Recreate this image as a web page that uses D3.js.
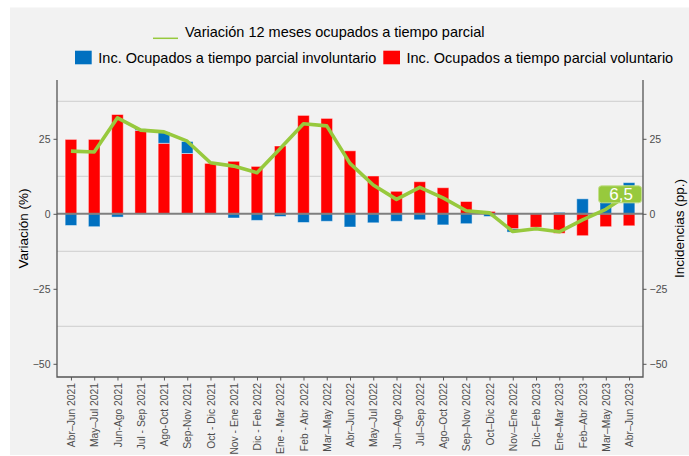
<!DOCTYPE html>
<html>
<head>
<meta charset="utf-8">
<script src="https://cdn.jsdelivr.net/npm/d3@7"></script>
<style>
  html, body { margin: 0; padding: 0; background: #fff; }
  svg { display: block; font-family: "Liberation Sans", Arial, sans-serif; }
</style>
</head>
<body>
<div id="chart"></div>
<script>
const categories = [
  "Abr–Jun 2021", "May–Jul 2021", "Jun-Ago 2021", "Jul - Sep 2021", "Ago-Oct 2021",
  "Sep-Nov 2021", "Oct - Dic 2021", "Nov - Ene 2021", "Dic - Feb 2022", "Ene - Mar 2022",
  "Feb - Abr 2022", "Mar–May 2022", "Abr–Jun 2022", "May–Jul 2022", "Jun–Ago 2022",
  "Jul–Sep 2022", "Ago–Oct 2022", "Sep–Nov 2022", "Oct–Dic 2022", "Nov–Ene 2022",
  "Dic–Feb 2023", "Ene–Mar 2023", "Feb–Abr 2023", "Mar–May 2023", "Abr–Jun 2023"
];
const involuntario = [-3.9, -4.3, -1.1, 0.5, 3.8, 4.0, 0.0, -1.4, -2.2, -0.9, -2.9, -2.5, -4.4,
  -3.0, -2.5, -2.0, -3.7, -3.3, -0.9, -1.1, 0.0, 0.5, 5.0, 5.8, 10.4];
const voluntario = [24.8, 24.8, 33.1, 27.8, 23.5, 20.1, 16.8, 17.5, 15.8, 22.6, 32.8, 31.8, 21.0,
  12.6, 7.5, 10.7, 8.7, 4.1, 0.8, -5.0, -4.5, -6.5, -7.3, -4.3, -4.0];
const variacion = [20.9, 20.6, 32.0, 27.9, 27.3, 24.2, 17.0, 15.9, 13.7, 21.8, 30.0, 29.3, 16.8,
  9.6, 4.8, 8.8, 5.3, 1.0, 0.3, -5.9, -5.0, -6.0, -2.0, 1.5, 6.5];
const yTicks = [25, 0, -25, -50];
const yMinor = [37.5, 12.5, -12.5, -37.5];
const lastLabel = "6,5";

const width = 689, height = 456;
const marginLeft = 57, marginRight = 46, marginTop = 80, marginBottom = 79;
const red = "#ff0000", blue = "#0070c0", green = "#97c93d";

const svg = d3.select("#chart").append("svg")
  .attr("width", width)
  .attr("height", height)
  .attr("viewBox", [0, 0, width, height]);

svg.append("rect")
  .attr("x", 10).attr("y", 7.5)
  .attr("width", width - 10).attr("height", height - 8.5)
  .attr("fill", "#f2f2f2");

const x = d3.scalePoint()
  .domain(categories)
  .range([marginLeft, width - marginRight])
  .padding(0.6);
const barW = x.step() * 0.5;

const y = d3.scaleLinear()
  .domain([-54.4, 44.6])
  .range([height - marginBottom, marginTop]);

// grid
svg.append("g")
  .selectAll("line")
  .data(yMinor)
  .join("line")
  .attr("x1", marginLeft).attr("x2", width - marginRight)
  .attr("y1", d => y(d)).attr("y2", d => y(d))
  .attr("stroke", "#cdcdcd")
  .attr("stroke-width", 1);

// stacked bars
const rows = categories.map((c, i) => ({ cat: c, vol: voluntario[i], inv: involuntario[i] }));
const series = d3.stack()
  .keys(["vol", "inv"])
  .offset(d3.stackOffsetDiverging)(rows);
const colors = { vol: red, inv: blue };

svg.append("g")
  .selectAll("g")
  .data(series)
  .join("g")
  .attr("fill", d => colors[d.key])
  .selectAll("rect")
  .data(d => d)
  .join("rect")
  .attr("x", d => x(d.data.cat) - barW / 2)
  .attr("width", barW)
  .attr("y", d => y(Math.max(d[0], d[1])))
  .attr("height", d => Math.abs(y(d[0]) - y(d[1])))
  .attr("stroke", "rgba(255,255,255,0.45)")
  .attr("stroke-width", 1);

// zero line
svg.append("line")
  .attr("x1", marginLeft).attr("x2", width - marginRight)
  .attr("y1", y(0)).attr("y2", y(0))
  .attr("stroke", "#7f7f7f")
  .attr("stroke-width", 2);

// variation line
const line = d3.line()
  .x((d, i) => x(categories[i]))
  .y(d => y(d));

svg.append("path")
  .attr("fill", "none")
  .attr("stroke", green)
  .attr("stroke-width", 3.6)
  .attr("stroke-linejoin", "round")
  .attr("d", line(variacion));

// last value label
const lx = x(categories[categories.length - 1]) - 9;
const ly = y(variacion[variacion.length - 1]);
svg.append("rect")
  .attr("x", lx - 21.5).attr("y", ly - 8.5)
  .attr("width", 43).attr("height", 17)
  .attr("rx", 3)
  .attr("fill", green)
  .attr("stroke", "#c4e08c")
  .attr("stroke-width", 1);
svg.append("text")
  .attr("x", lx + 1).attr("y", ly)
  .attr("dy", "0.36em")
  .attr("text-anchor", "middle")
  .attr("fill", "#fff")
  .attr("font-size", 17)
  .text(lastLabel);

// axes
const axisColor = "#555";
const tickColor = "#4d4d4d";

const yAxisLeft = d3.axisLeft(y).tickValues(yTicks).tickSize(3.5).tickPadding(3);
const yAxisRight = d3.axisRight(y).tickValues(yTicks).tickSize(3.5).tickPadding(3);
const xAxis = d3.axisBottom(x).tickSize(3.5).tickPadding(2);

function styleAxis(g) {
  g.select(".domain").remove();
  g.selectAll(".tick line").attr("stroke", axisColor);
  g.selectAll(".tick text").attr("fill", tickColor).attr("font-size", 10.5);
}

svg.append("g")
  .attr("transform", `translate(${marginLeft},0)`)
  .call(yAxisLeft)
  .call(styleAxis);

svg.append("g")
  .attr("transform", `translate(${width - marginRight},0)`)
  .call(yAxisRight)
  .call(styleAxis);

svg.append("g")
  .attr("transform", `translate(0,${height - marginBottom})`)
  .call(xAxis)
  .call(styleAxis)
  .call(g => g.selectAll(".tick text")
    .attr("font-size", 10.3)
    .attr("text-anchor", "end")
    .attr("transform", "rotate(-90)")
    .attr("x", -6).attr("y", 0).attr("dy", "0.35em"));

// frame lines (left, right, bottom)
svg.append("path")
  .attr("fill", "none")
  .attr("stroke", axisColor)
  .attr("stroke-width", 1.3)
  .attr("d", `M${marginLeft},${marginTop}V${height - marginBottom}H${width - marginRight}V${marginTop}`);

// axis titles
svg.append("text")
  .attr("transform", `translate(28,${(marginTop + height - marginBottom) / 2}) rotate(-90)`)
  .attr("text-anchor", "middle")
  .attr("font-size", 13.5)
  .attr("fill", "#000")
  .text("Variación (%)");

svg.append("text")
  .attr("transform", `translate(684,${(marginTop + height - marginBottom) / 2}) rotate(-90)`)
  .attr("text-anchor", "middle")
  .attr("font-size", 13.5)
  .attr("fill", "#000")
  .text("Incidencias (pp.)");

// legend
const legend = svg.append("g").attr("font-size", 14.5).attr("fill", "#000");
legend.append("line")
  .attr("x1", 153).attr("x2", 178)
  .attr("y1", 38.3).attr("y2", 38.3)
  .attr("stroke", green).attr("stroke-width", 1.5);
legend.append("text").attr("x", 185).attr("y", 37.4)
  .text("Variación 12 meses ocupados a tiempo parcial");

legend.append("rect").attr("x", 75).attr("y", 50.7).attr("width", 16.7).attr("height", 13.6).attr("fill", blue);
legend.append("text").attr("x", 98.3).attr("y", 63.3)
  .text("Inc. Ocupados a tiempo parcial involuntario");
legend.append("rect").attr("x", 383.3).attr("y", 50.7).attr("width", 16.7).attr("height", 13.6).attr("fill", red);
legend.append("text").attr("x", 406.4).attr("y", 63.3)
  .text("Inc. Ocupados a tiempo parcial voluntario");
</script>
</body>
</html>
